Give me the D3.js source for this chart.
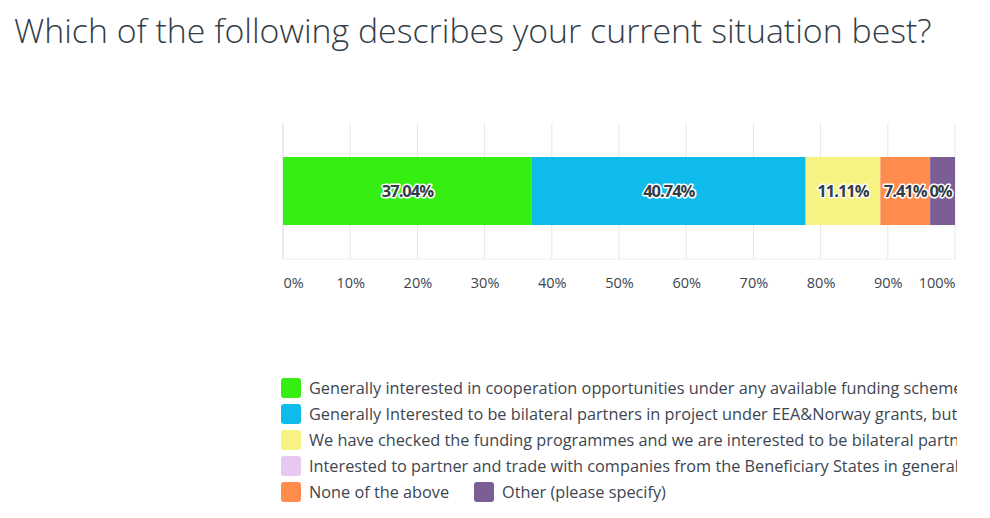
<!DOCTYPE html>
<html><head><meta charset="utf-8">
<script src="https://cdn.jsdelivr.net/npm/d3@7"></script>
<style>body{margin:0;background:#fff;}svg{display:block;}</style>
</head><body>
<svg id="c" width="990" height="518"></svg>
<script>
const title = "Which of the following describes your current situation best?";
const categories = [
  "Generally interested in cooperation opportunities under any available funding scheme",
  "Generally Interested to be bilateral partners in project under EEA&Norway grants, but not yet decided",
  "We have checked the funding programmes and we are interested to be bilateral partners in a specific programme",
  "Interested to partner and trade with companies from the Beneficiary States in general",
  "None of the above",
  "Other (please specify)"
];
const values = [37.04, 40.74, 11.11, 0, 7.41, 3.70];
const labels = ["37.04%", "40.74%", "11.11%", "", "7.41%", "0%"];
const colors = ["#36ef12", "#0fbbeb", "#f7f382", "#e8c8f0", "#ff8b4d", "#7c5e96"];
const ticks = [0,10,20,30,40,50,60,70,80,90,100];

const svg = d3.select("#c");
const font = "'Open Sans', 'Noto Sans', sans-serif";
const textCol = "#333e48";

// title
const t = svg.append("text").attr("x", 14).attr("y", 43)
  .attr("font-family", font).attr("font-weight", 300).attr("font-size", 34)
  .attr("fill", textCol).text(title);
const w = t.node().getComputedTextLength();
t.attr("font-size", 34 * 918 / w);

const x = d3.scaleLinear().domain([0, 100]).range([283, 955]);
const y = d3.scaleBand().domain(["q"]).range([123, 259]).paddingInner(0).paddingOuter(0.5);

// grid
svg.append("g").selectAll("line").data(ticks).join("line")
  .attr("x1", d => x(d)).attr("x2", d => x(d))
  .attr("y1", 123).attr("y2", 259)
  .attr("stroke", (d) => d === 0 ? "#d8d8d8" : "#e6e6e6").attr("stroke-width", 1);
svg.append("line").attr("x1", x(0)).attr("x2", x(100)).attr("y1", 259).attr("y2", 259)
  .attr("stroke", "#eeeeee");

// stacked segments
let acc = 0;
const segs = values.map((v, i) => { const s = {i, v, x0: acc, x1: acc + v}; acc += v; return s; });
const by = y("q"), bh = y.bandwidth();
svg.append("g").selectAll("rect").data(segs).join("rect")
  .attr("x", d => x(d.x0)).attr("width", d => x(d.x1) - x(d.x0))
  .attr("y", by).attr("height", bh)
  .attr("fill", d => colors[d.i]);

svg.append("g").selectAll("text").data(segs.filter(d => labels[d.i])).join("text")
  .attr("x", d => (x(d.x0) + x(d.x1)) / 2 - (d.i === 5 ? 2 : 0))
  .attr("y", by + bh / 2 + 6)
  .attr("text-anchor", "middle")
  .attr("font-family", font).attr("font-weight", 700).attr("font-size", 16.5)
  .attr("letter-spacing", -1)
  .attr("fill", textCol).attr("stroke", "#fff").attr("stroke-width", 3)
  .attr("stroke-linejoin", "round").attr("paint-order", "stroke")
  .text(d => labels[d.i]);

// axis
const axis = d3.axisBottom(x).tickValues(ticks).tickFormat(d => d + "%").tickSize(0).tickPadding(0);
const ag = svg.append("g").attr("transform", "translate(0,278)").call(axis);
ag.select(".domain").remove();
ag.selectAll("text").attr("font-family", font).attr("font-size", 14.5).attr("fill", "#3d4650")
  .attr("dy", "0.71em")
  .attr("text-anchor", d => d === 0 ? "start" : d === 100 ? "end" : "middle");

// legend
svg.append("defs").append("clipPath").attr("id", "lc")
  .append("rect").attr("x", 0).attr("y", 360).attr("width", 957).attr("height", 158);
const lg = svg.append("g").attr("clip-path", "url(#lc)");
const pos = [[281,378],[281,404],[281,430],[281,456],[281,482],[474,482]];
const items = lg.selectAll("g").data(categories).join("g")
  .attr("transform", (d, i) => `translate(${pos[i][0]},${pos[i][1]})`);
items.append("rect").attr("width", 20).attr("height", 20).attr("rx", 3)
  .attr("fill", (d, i) => colors[i]);
items.append("text").attr("x", 28).attr("y", 16)
  .attr("font-family", font).attr("font-size", 16.3).attr("fill", "#3d4650")
  .text(d => d);
</script>
</body></html>
